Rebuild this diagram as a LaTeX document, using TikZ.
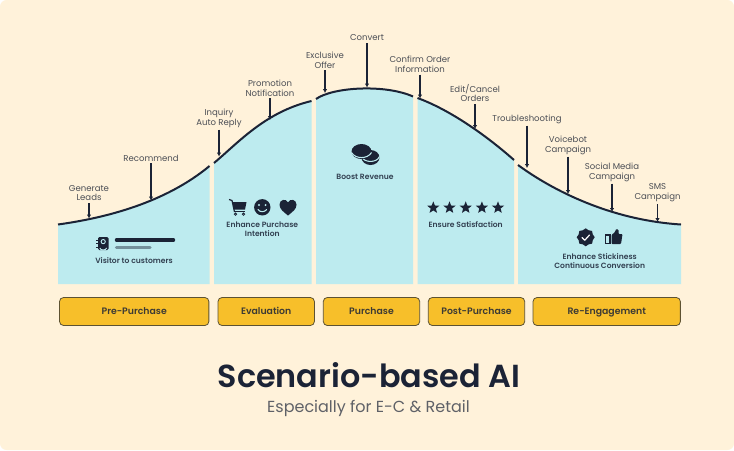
\documentclass[tikz,border=0pt]{standalone}
\usepackage{fontspec}
\setmainfont{Poppins}
\newfontfamily\popsemi{Poppins}[UprightFont=* SemiBold]
\usetikzlibrary{shapes.geometric}
\usetikzlibrary{arrows.meta}

\definecolor{cream}{HTML}{FFF2DA}
\definecolor{panelblue}{HTML}{BDEBEF}
\definecolor{btnyellow}{HTML}{F7BF2A}
\definecolor{navy}{HTML}{1B2336}
\definecolor{lblgray}{HTML}{4B4E55}

\tikzset{
	steplbl/.style={font=\fontsize{6.4}{7.4}\selectfont, text=lblgray, align=center, inner sep=1.5pt},
	gainlbl/.style={font=\popsemi\fontsize{5.7}{6.5}\selectfont, text=navy!85!panelblue, align=center, inner sep=0pt},
	phasebtn/.style={draw=navy!70!btnyellow, line width=0.6pt, fill=btnyellow, rounded corners=3pt, minimum height=21pt, inner sep=0pt, text height=5.4pt, text depth=1.6pt, font=\popsemi\fontsize{7}{8}\selectfont, text=navy!85!btnyellow},
	stepline/.style={-{Latex[length=3pt,width=3.4pt]}, navy, line width=1.1pt},
	curveline/.style={navy, line width=1.5pt},
	starmark/.style={star, star points=5, star point ratio=2.3, fill=navy, inner sep=0pt, minimum size=9.5pt}
}

% the five bits of the curve
\newcommand{\curveA}{(58,224.5) .. controls (105,218) and (165,203) .. (209.5,166)}
\newcommand{\curveB}{(214,163) .. controls (238,143) and (265,112) .. (311.5,101)}
\newcommand{\curveC}{(316,99) .. controls (333,87) and (385,84) .. (413,96.5)}
\newcommand{\curveD}{(417.5,98) .. controls (445,108) and (480,130) .. (514,160)}
\newcommand{\curveE}{(518,165) .. controls (552,190) and (610,220) .. (681,224.5)}

\begin{document}
\begin{tikzpicture}[x=0.75pt, y=-0.75pt]
	\useasboundingbox (0, 0) rectangle (734, 450);
	\fill[white]	(0, 0) rectangle (734, 450);
	\fill[cream, rounded corners=5pt]	(0, 0) rectangle (734, 450);

	% panels
	\fill[panelblue]	\curveA -- (209.5, 284) -- (58, 284) -- cycle;
	\fill[panelblue]	\curveB -- (311.5, 284) -- (214, 284) -- cycle;
	\fill[panelblue]	\curveC -- (413, 284) -- (316, 284) -- cycle;
	\fill[panelblue]	\curveD -- (514, 284) -- (417.5, 284) -- cycle;
	\fill[panelblue]	\curveE -- (681, 284) -- (518, 284) -- cycle;

	\draw[curveline]	\curveA;
	\draw[curveline]	\curveB;
	\draw[curveline]	\curveC;
	\draw[curveline]	\curveD;
	\draw[curveline]	\curveE;

	% labels above the curve
	\node[steplbl] (leads)		at (89, 193)	{Generate\\Leads};
	\node[steplbl] (recommend)	at (151, 158)	{Recommend};
	\node[steplbl] (inquiry)	at (219, 118)	{Inquiry\\Auto Reply};
	\node[steplbl] (promo)		at (270, 88)	{Promotion\\Notification};
	\node[steplbl] (offer)		at (325, 60)	{Exclusive\\Offer};
	\node[steplbl] (convert)	at (367, 38)	{Convert};
	\node[steplbl] (confirm)	at (420, 64)	{Confirm Order\\Information};
	\node[steplbl] (edit)		at (475, 93)	{Edit/Cancel\\Orders};
	\node[steplbl] (trouble)	at (527, 119)	{Troubleshooting};
	\node[steplbl] (voicebot)	at (568, 145)	{Voicebot\\Campaign};
	\node[steplbl] (social)		at (612, 172)	{Social Media\\Campaign};
	\node[steplbl] (sms)		at (657.5, 193)	{SMS\\Campaign};

	\coordinate (leadsTip)		at (89, 218.5);
	\coordinate (recommendTip)	at (151, 200.5);
	\coordinate (inquiryTip)	at (219, 156.5);
	\coordinate (promoTip)		at (270, 120);
	\coordinate (offerTip)		at (325, 93);
	\coordinate (convertTip)	at (367, 87.5);
	\coordinate (confirmTip)	at (420, 98.5);
	\coordinate (editTip)		at (475, 129);
	\coordinate (troubleTip)	at (527, 168);
	\coordinate (voicebotTip)	at (568, 194);
	\coordinate (socialTip)		at (612, 212);
	\coordinate (smsTip)		at (657.5, 222);

	\draw[stepline]	(leads) to (leadsTip);
	\draw[stepline]	(recommend) to (recommendTip);
	\draw[stepline]	(inquiry) to (inquiryTip);
	\draw[stepline]	(promo) to (promoTip);
	\draw[stepline]	(offer) to (offerTip);
	\draw[stepline]	(convert) to (convertTip);
	\draw[stepline]	(confirm) to (confirmTip);
	\draw[stepline]	(edit) to (editTip);
	\draw[stepline]	(trouble) to (troubleTip);
	\draw[stepline]	(voicebot) to (voicebotTip);
	\draw[stepline]	(social) to (socialTip);
	\draw[stepline]	(sms) to (smsTip);

	% pre-purchase: contact book and two bars
	\fill[navy, rounded corners=1pt]	(98, 237) rectangle (108.5, 250);
	\draw[navy, line width=0.6pt]	(96, 240) to (99, 240)
									(96, 243.5) to (99, 243.5)
									(96, 247) to (99, 247);
	\draw[panelblue, line width=0.7pt]	(103.2, 241.6) circle (2.1)
										(99.8, 248) to[out=-80, in=-100] (106.6, 248);
	\draw[navy, line width=2.6pt, line cap=round]	(116.5, 240) to (173.5, 240);
	\draw[navy!45!panelblue, line width=2.6pt, line cap=round]	(116.5, 247.5) to (150, 247.5);
	\node[gainlbl] (visitor) at (134, 260.5) {Visitor to customers};

	% evaluation: cart, smiley, heart
	\draw[navy, line width=0.9pt]	(229, 199.5) to (232, 200.5) to (234.5, 212);
	\fill[navy]	(232.5, 202) -- (246.5, 202) -- (245, 209.5) -- (234, 209.5) -- cycle;
	\draw[navy, line width=0.8pt]	(234.5, 211.5) to (245, 211.5);
	\draw[navy, line width=0.6pt]	(235.5, 214.2) circle (1.2)
									(243.5, 214.2) circle (1.2);
	\fill[navy]	(262.3, 207.3) circle (8.2);
	\fill[panelblue]	(259, 205) circle (1.1)
						(265.6, 205) circle (1.1);
	\draw[panelblue, line width=0.8pt, line cap=round]	(258, 209.5) to[out=-60, in=-120] (266.6, 209.5);
	\fill[navy]	(288, 215.5) .. controls (283, 211.5) and (279.5, 209) .. (279.5, 204.5)
				.. controls (279.5, 199.5) and (286, 198) .. (288, 202.5)
				.. controls (290, 198) and (296.5, 199.5) .. (296.5, 204.5)
				.. controls (296.5, 209) and (293, 211.5) .. (288, 215.5) -- cycle;
	\node[gainlbl] (purchase) at (262.3, 229) {Enhance Purchase\\Intention};

	% purchase: two coins
	\fill[navy]	(370.5, 157.5) ellipse (9 and 7.5);
	\draw[panelblue, line width=0.8pt]	(361.5, 156.5) to[out=-70, in=-110] (379.5, 156.5);
	\fill[navy]	(361.5, 151.5) ellipse (10 and 7.5);
	\draw[panelblue, line width=0.8pt]	(351.5, 152.5) to[out=-60, in=-120] (371.5, 152.5);
	\node[gainlbl] (revenue) at (365, 177) {Boost Revenue};

	% post-purchase: stars
	\node[starmark] (starA) at (433.3, 207.7) {};
	\node[starmark] (starB) at (449.5, 207.7) {};
	\node[starmark] (starC) at (465.7, 207.7) {};
	\node[starmark] (starD) at (481.9, 207.7) {};
	\node[starmark] (starE) at (498, 207.7) {};
	\node[gainlbl] (satisfied) at (465.7, 225) {Ensure Satisfaction};

	% re-engagement: badge and thumb
	\node[star, star points=8, star point ratio=1.18, fill=navy, inner sep=0pt, minimum size=13.5pt] (badge) at (585.7, 237.3) {};
	\draw[white, line width=0.9pt, line cap=round, line join=round]	(582, 237.5) to (584.8, 240.2) to (589.5, 235);
	\draw[navy, line width=0.8pt]	(605.5, 235) rectangle (610, 243.5);
	\fill[navy, rounded corners=0.7pt]	(611.5, 235) -- (615, 232) -- (616, 229) -- (618.5, 229.5) -- (618.5, 234) -- (622.5, 234) -- (621, 244) -- (611.5, 244) -- cycle;
	\node[gainlbl] (stickiness) at (599.7, 261.3) {Enhance Stickiness\\Continuous Conversion};

	% phase buttons
	\node[phasebtn, minimum width=112pt] (prebtn)	at (134.2, 311.5) {Pre-Purchase};
	\node[phasebtn, minimum width=72.3pt] (evalbtn)	at (266.2, 311.5) {Evaluation};
	\node[phasebtn, minimum width=72.3pt] (buybtn)	at (371.5, 311.5) {Purchase};
	\node[phasebtn, minimum width=72.3pt] (postbtn)	at (476.5, 311.5) {Post-Purchase};
	\node[phasebtn, minimum width=110.5pt] (rebtn)	at (606.7, 311.5) {Re-Engagement};

	% title
	\node[font=\popsemi\fontsize{23.9}{28}\selectfont, text=navy, inner sep=0pt] (title) at (369, 375) {Scenario-based AI};
	\node[font=\fontsize{12}{14}\selectfont, text=navy!70!cream, inner sep=0pt] (subtitle) at (368.5, 408) {Especially for E-C \& Retail};
\end{tikzpicture}
\end{document}
